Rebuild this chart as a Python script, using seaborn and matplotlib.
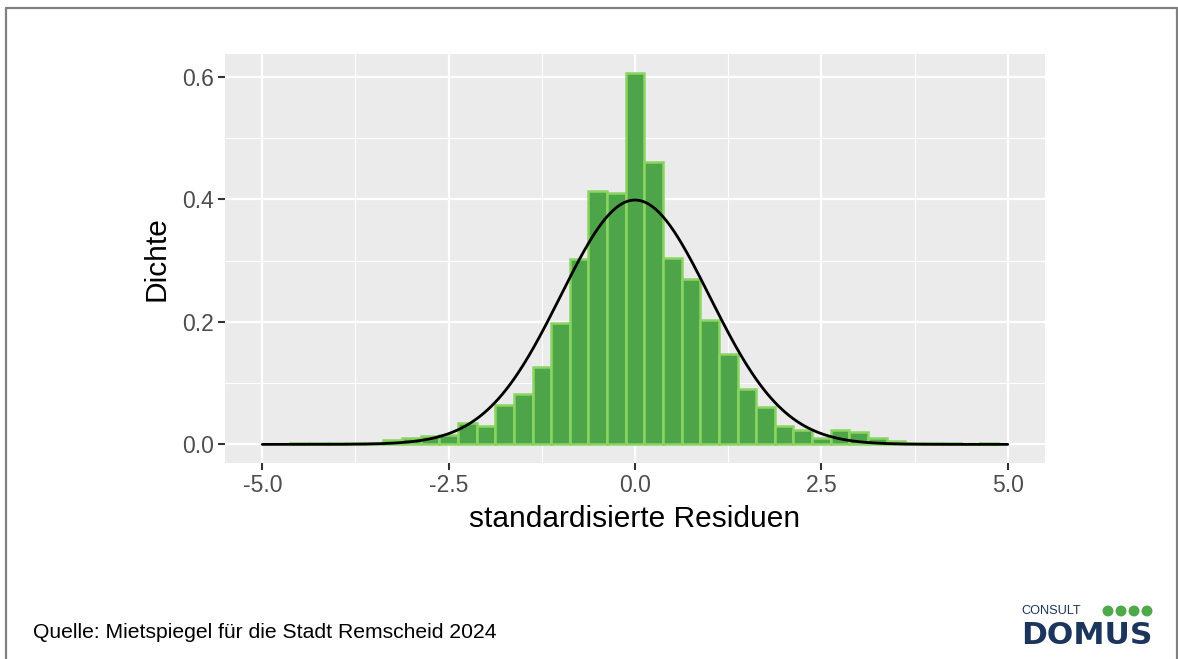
import numpy as np
import pandas as pd
import seaborn as sns
import matplotlib
matplotlib.use("Agg")
import matplotlib.pyplot as plt
from matplotlib.ticker import AutoMinorLocator
from matplotlib.lines import Line2D
from matplotlib.patches import Ellipse

# ---------------- data ----------------
bin_centers = [-4.5, -4.25, -4.0, -3.75, -3.5, -3.25, -3.0, -2.75, -2.5, -2.25,
               -2.0, -1.75, -1.5, -1.25, -1.0, -0.75, -0.5, -0.25, 0.0, 0.25,
               0.5, 0.75, 1.0, 1.25, 1.5, 1.75, 2.0, 2.25, 2.5, 2.75,
               3.0, 3.25, 3.5, 3.75, 4.0, 4.25, 4.5, 4.75]
densities = [0.002, 0.002, 0.002, 0.002, 0.003, 0.007, 0.011, 0.013, 0.016, 0.035,
             0.030, 0.064, 0.083, 0.126, 0.198, 0.303, 0.414, 0.410, 0.607, 0.461,
             0.304, 0.270, 0.203, 0.147, 0.090, 0.061, 0.030, 0.023, 0.011, 0.023,
             0.021, 0.011, 0.006, 0.002, 0.002, 0.002, 0.0, 0.002]
bin_width = 0.25
normal_mean = 0.0
normal_sd = 1.0
curve_range = (-5.0, 5.0)

x_ticks = [-5.0, -2.5, 0.0, 2.5, 5.0]
x_tick_labels = ["-5.0", "-2.5", "0.0", "2.5", "5.0"]
y_ticks = [0.0, 0.2, 0.4, 0.6]
y_tick_labels = ["0.0", "0.2", "0.4", "0.6"]

x_title = "standardisierte Residuen"
y_title = "Dichte"
source_text = "Quelle: Mietspiegel für die Stadt Remscheid 2024"

# ---------------- style ----------------
sns.set_theme(style="darkgrid", rc={
    "axes.facecolor": "#EBEBEB",
    "grid.color": "white",
    "axes.edgecolor": "#EBEBEB",
})
plt.rcParams["font.family"] = ["Liberation Sans", "DejaVu Sans"]

W, H = 1178, 659
fig = plt.figure(figsize=(W / 100, H / 100), dpi=100)
fig.patch.set_facecolor("white")

ax = fig.add_axes([225 / W, 1 - 463 / H, (1045 - 225) / W, (463 - 54) / H])

hist_df = pd.DataFrame({"x": bin_centers, "w": densities})
lo = bin_centers[0] - bin_width / 2
hi = bin_centers[-1] + bin_width / 2
sns.histplot(data=hist_df, x="x", weights="w", stat="count",
             binwidth=bin_width, binrange=(lo, hi),
             color="#4EA449", edgecolor="#8BD462", linewidth=1.8,
             alpha=1.0, ax=ax, zorder=2)

xs = np.linspace(curve_range[0], curve_range[1], 401)
pdf = np.exp(-0.5 * ((xs - normal_mean) / normal_sd) ** 2) / (normal_sd * np.sqrt(2 * np.pi))
curve_df = pd.DataFrame({"x": xs, "y": pdf})
sns.lineplot(data=curve_df, x="x", y="y", color="black", linewidth=2.0, ax=ax, zorder=3)

ax.set_xlim(-5.5, 5.5)
ax.set_ylim(-0.0304, 0.6374)
ax.set_xticks(x_ticks)
ax.set_xticklabels(x_tick_labels)
ax.set_yticks(y_ticks)
ax.set_yticklabels(y_tick_labels)
ax.xaxis.set_minor_locator(AutoMinorLocator(2))
ax.yaxis.set_minor_locator(AutoMinorLocator(2))
ax.grid(which="major", color="white", linewidth=1.6)
ax.grid(which="minor", color="white", linewidth=0.8)
ax.set_axisbelow(True)
for s in ax.spines.values():
    s.set_visible(False)

ax.tick_params(axis="both", which="major", length=5, width=1.5, color="#333333",
               labelsize=16.5, labelcolor="#4D4D4D", pad=3,
               bottom=True, left=True)
ax.tick_params(axis="both", which="minor", length=0)

ax.set_xlabel(x_title, fontsize=21.5, color="black", labelpad=6)
ax.set_ylabel(y_title, fontsize=21.5, color="black", labelpad=8)

# frame around the page
fc = "#808080"
fig.add_artist(Line2D([6 / W, 1177 / W], [1 - 8 / H, 1 - 8 / H], color=fc, lw=1.6, transform=fig.transFigure))
fig.add_artist(Line2D([6 / W, 6 / W], [1 - 8 / H, 0], color=fc, lw=1.6, transform=fig.transFigure))
fig.add_artist(Line2D([1176.5 / W, 1176.5 / W], [1 - 8 / H, 0], color=fc, lw=1.6, transform=fig.transFigure))

# source
fig.text(33 / W, 1 - 632 / H, source_text, fontsize=15.2, color="black",
         ha="left", va="center")

# logo
navy = "#1B355C"
fig.text(1021 / W, 1 - 611 / H, "CONSULT", fontsize=9.2, color=navy,
         ha="left", va="center")
for cx in [1108, 1121, 1134, 1147]:
    fig.add_artist(Ellipse((cx / W, 1 - 611 / H), 9.5 / W, 9.5 / H, color="#4FA84A",
                           transform=fig.transFigure))
fig.text(1087 / W, 1 - 635 / H, "DOMUS", fontsize=22.5, fontweight="bold",
         family="DejaVu Sans", color=navy, ha="center", va="center")

fig.savefig("out.png", dpi=100)
